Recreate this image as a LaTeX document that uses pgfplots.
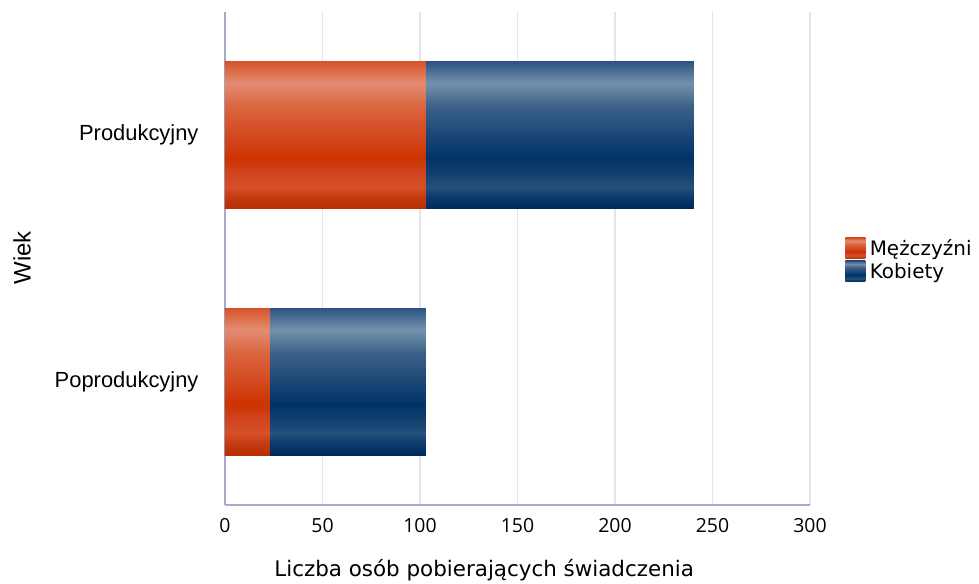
\documentclass[border=0pt]{standalone}
\usepackage{pgfplots}
\pgfplotsset{compat=1.18}
\usepackage{fontspec}
\setmainfont{DejaVu Sans}
\newfontfamily\arialf{Liberation Sans}
\newfontfamily\openf{Open Sans}
\definecolor{gridc}{HTML}{E4E4EC}
\definecolor{axc}{HTML}{A8A8C8}
\definecolor{rA}{HTML}{B82E00}
\definecolor{rB}{HTML}{C43A10}
\definecolor{rC}{HTML}{D55129}
\definecolor{rD}{HTML}{D14520}
\definecolor{rE}{HTML}{CC3300}
\definecolor{rF}{HTML}{D3491F}
\definecolor{rG}{HTML}{DA6640}
\definecolor{rH}{HTML}{E38C72}
\definecolor{rI}{HTML}{DC6C48}
\definecolor{rJ}{HTML}{D6532A}
\definecolor{bA}{HTML}{00295A}
\definecolor{bB}{HTML}{0B3A6C}
\definecolor{bC}{HTML}{24507A}
\definecolor{bD}{HTML}{134170}
\definecolor{bE}{HTML}{003366}
\definecolor{bF}{HTML}{1A4676}
\definecolor{bG}{HTML}{3D628A}
\definecolor{bH}{HTML}{7391AB}
\definecolor{bI}{HTML}{4A6E95}
\definecolor{bJ}{HTML}{2C5383}
\pgfdeclareverticalshading{redbar}{100bp}{color(0bp)=(rA); color(25bp)=(rA); color(29bp)=(rB); color(32.5bp)=(rC); color(37bp)=(rD); color(42.25bp)=(rE); color(50bp)=(rF); color(60bp)=(rG); color(67.75bp)=(rH); color(72bp)=(rI); color(75bp)=(rJ); color(100bp)=(rJ)}
\pgfdeclareverticalshading{bluebar}{100bp}{color(0bp)=(bA); color(25bp)=(bA); color(29bp)=(bB); color(32.5bp)=(bC); color(37bp)=(bD); color(42.25bp)=(bE); color(50bp)=(bF); color(60bp)=(bG); color(67.75bp)=(bH); color(72bp)=(bI); color(75bp)=(bJ); color(100bp)=(bJ)}
\begin{document}
\begin{tikzpicture}
\useasboundingbox (-225bp,-79bp) rectangle (754bp,505bp);
\begin{axis}[
  at={(0,0)}, anchor=south west,
  scale only axis, width=585bp, height=493bp,
  xbar, bar width=147bp, bar shift=0pt,
  xmin=0, xmax=300, ymin=0.5, ymax=2.5,
  xtick={0,50,100,150,200,250,300},
  ytick={1,2}, yticklabels={Poprodukcyjny,Produkcyjny},
  major tick length=0pt,
  axis x line*=bottom, axis y line*=left,
  axis line style={axc, line width=1.5bp, -},
  xmajorgrids, grid style={gridc, line width=1.5bp},
  /pgf/number format/assume math mode=true,
  xticklabel style={font=\openf\fontsize{19.5}{23}\selectfont, yshift=-10bp},
  yticklabel style={font=\arialf\fontsize{22}{25}\selectfont, xshift=-23bp},
  xlabel={Liczba osób pobierających świadczenia},
  xlabel style={font=\fontsize{21.5}{25}\selectfont, at={(axis description cs:0.443,-0.132)}, anchor=center},
  ylabel={Wiek},
  ylabel style={font=\arialf\fontsize{24}{28}\selectfont, at={(axis description cs:-0.347,0.501)}, anchor=center, rotate=0},
  legend style={draw=none, fill=none, at={(1.06,0.497)}, anchor=west, font=\fontsize{20}{23}\selectfont, row sep=2bp, inner sep=0pt, nodes={inner xsep=4.5bp, inner ysep=1bp}},
  legend cell align=left,
  legend image code/.code={\path[#1, draw=none] (0bp,-10.5bp) rectangle (20bp,10.5bp);},
]
\addlegendimage{draw=none, shade, shading=redbar}
\addlegendimage{draw=none, shade, shading=bluebar}
\addplot[draw=none, shade, shading=bluebar, forget plot] coordinates {(240.5,2)};
\addplot[draw=none, shade, shading=bluebar, forget plot] coordinates {(103,1)};
\addplot[draw=none, shade, shading=redbar, forget plot] coordinates {(103,2)};
\addplot[draw=none, shade, shading=redbar, forget plot] coordinates {(23,1)};
\legend{Mężczyźni, Kobiety}
\end{axis}
\end{tikzpicture}
\end{document}
